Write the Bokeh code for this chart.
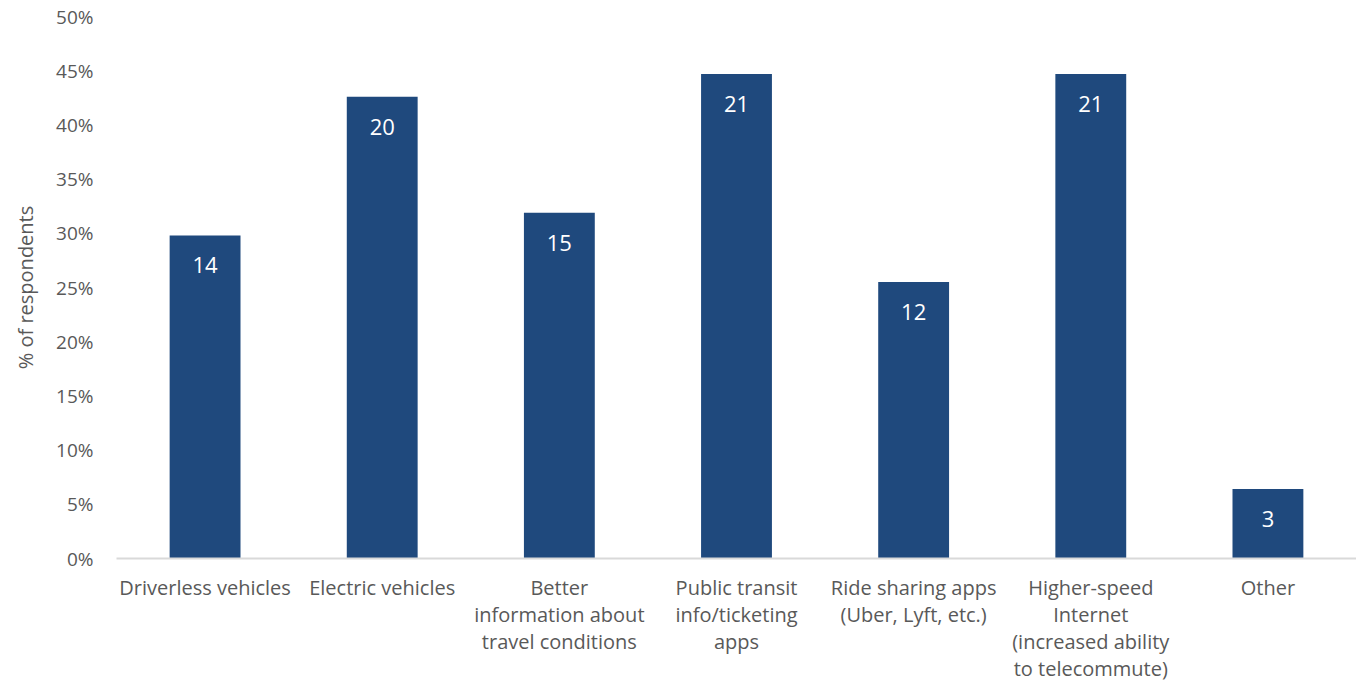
from bokeh.plotting import figure
from bokeh.models import ColumnDataSource, NumeralTickFormatter, FixedTicker
from bokeh.core.properties import value
from bokeh.embed import file_html
from bokeh.resources import INLINE

categories = [
    "Driverless vehicles",
    "Electric vehicles",
    "Better\ninformation about\ntravel conditions",
    "Public transit\ninfo/ticketing\napps",
    "Ride sharing apps\n(Uber, Lyft, etc.)",
    "Higher-speed\nInternet\n(increased ability\nto telecommute)",
    "Other",
]
pct_respondents = [0.298, 0.426, 0.319, 0.447, 0.255, 0.447, 0.064]
counts = [14, 20, 15, 21, 12, 21, 3]
y_ticks = [0, 0.05, 0.10, 0.15, 0.20, 0.25, 0.30, 0.35, 0.40, 0.45, 0.50]

FONT = "Open Sans"
GRAY = "#595959"
BLUE = "#1F497D"

src = ColumnDataSource(dict(cat=categories, pct=pct_respondents,
                            lbl=[str(c) for c in counts]))

p = figure(x_range=categories, y_range=(0, 0.5), width=1356, height=684,
           output_backend="svg", toolbar_location=None,
           min_border_left=116, min_border_right=0, min_border_top=16,
           min_border_bottom=118)
p.outline_line_color = None
p.background_fill_color = "white"
p.border_fill_color = "white"
p.xgrid.grid_line_color = None
p.ygrid.grid_line_color = None
p.x_range.range_padding = 0

p.vbar(x="cat", top="pct", width=0.4, source=src, fill_color=BLUE,
       line_color=None)
p.text(x="cat", y="pct", text="lbl", source=src, text_color="white",
       text_font=value(FONT), text_font_size="22px", text_align="center",
       text_baseline="middle", y_offset=30)

# y axis
p.yaxis.ticker = FixedTicker(ticks=y_ticks)
p.yaxis.formatter = NumeralTickFormatter(format="0%")
p.yaxis.axis_line_color = None
p.yaxis.major_tick_line_color = None
p.yaxis.minor_tick_line_color = None
p.yaxis.major_label_text_font = FONT
p.yaxis.major_label_text_font_size = "19px"
p.yaxis.major_label_text_color = GRAY
p.yaxis.major_label_standoff = 17
p.yaxis.axis_label = "% of respondents"
p.yaxis.axis_label_text_font = FONT
p.yaxis.axis_label_text_font_size = "20px"
p.yaxis.axis_label_text_font_style = "normal"
p.yaxis.axis_label_text_color = GRAY
p.yaxis.axis_label_standoff = 14

# x axis
p.xaxis.axis_line_color = "#D9D9D9"
p.xaxis.axis_line_width = 2
p.xaxis.major_tick_line_color = None
p.xaxis.minor_tick_line_color = None
p.xaxis.major_label_text_font = FONT
p.xaxis.major_label_text_font_size = "20px"
p.xaxis.major_label_text_color = GRAY
p.xaxis.major_label_text_line_height = 1.0
p.xaxis.major_label_standoff = 9

open("out.html", "w").write(file_html(p, INLINE))
